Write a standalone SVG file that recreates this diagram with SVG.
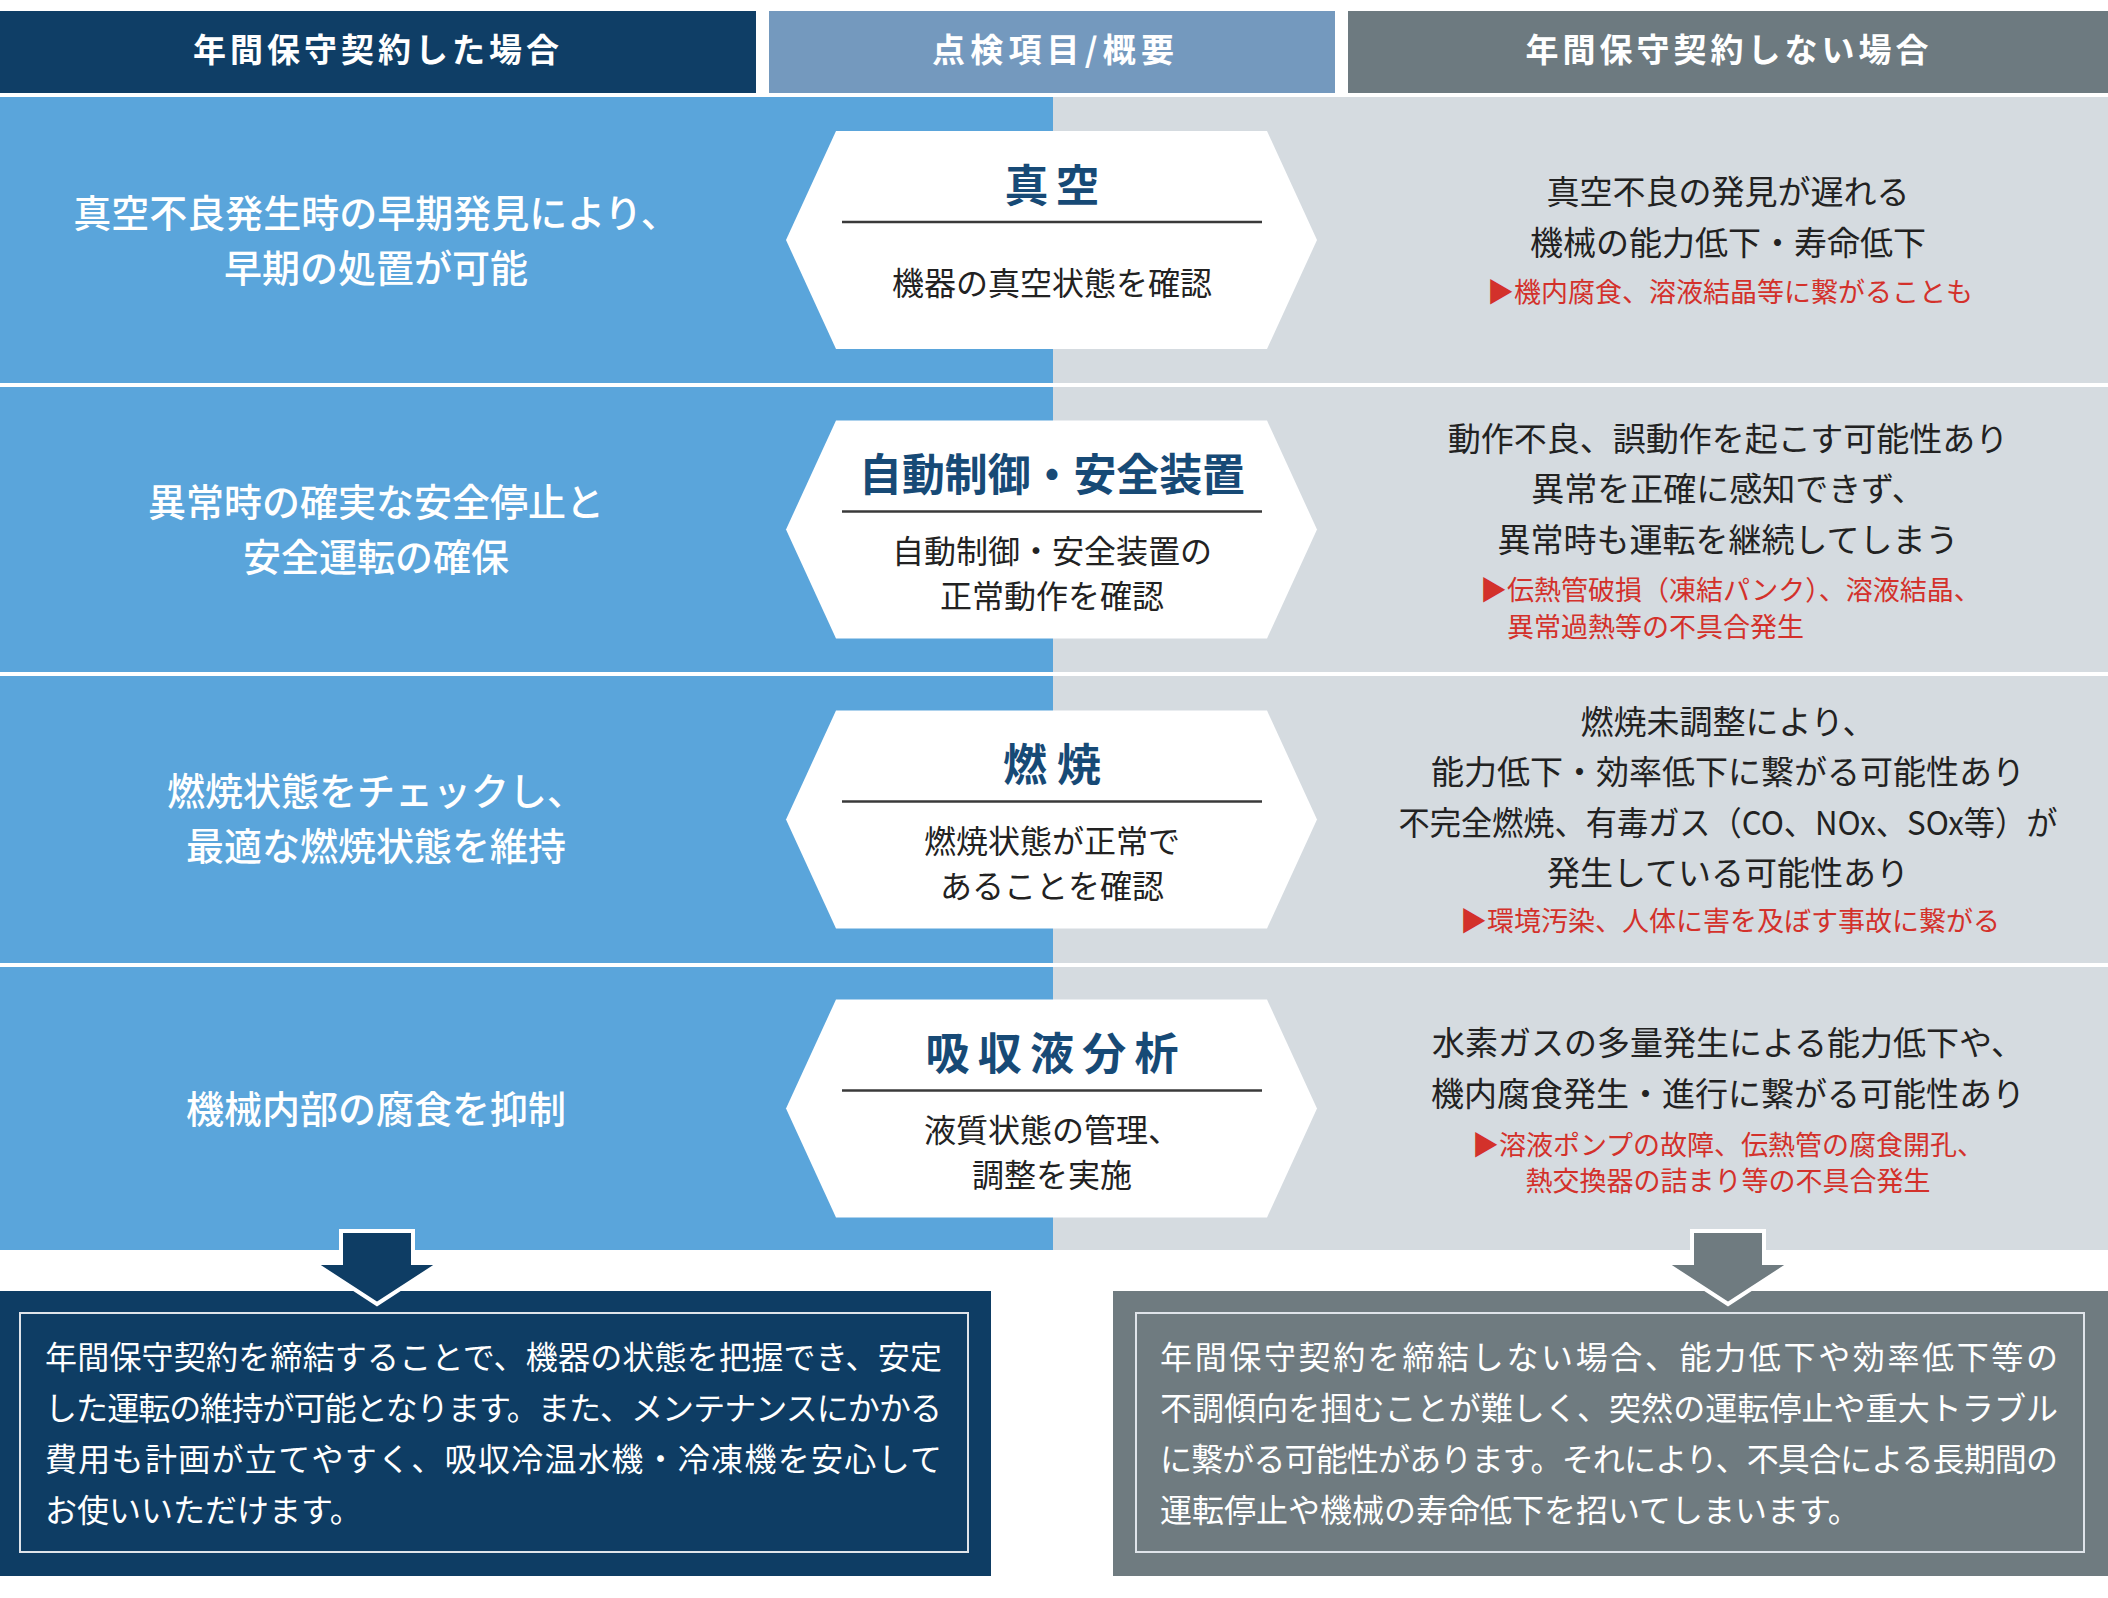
<svg xmlns="http://www.w3.org/2000/svg" width="2108" height="1598" viewBox="0 0 2108 1598">
<style>
text{font-family:"Noto Sans CJK JP","Noto Sans",sans-serif;}
.hdr{font-size:33px;font-weight:700;fill:#ffffff;text-anchor:middle;}
.lt{font-size:38px;fill:#ffffff;text-anchor:middle;font-weight:500;}
.rt{font-size:33px;fill:#222222;text-anchor:middle;}
.red{font-size:27px;fill:#d3312b;text-anchor:middle;}
.ttl{font-size:44px;font-weight:700;fill:#174a76;text-anchor:middle;}
.sub{font-size:32px;fill:#222222;text-anchor:middle;}
.hex{fill:#ffffff;}
.div{stroke:#3a3a3a;stroke-width:2.5;}
.box{font-size:32px;fill:#ffffff;}
.inner{fill:none;stroke:#dfe4ea;stroke-width:2;}
.blue{fill:#5aa5db;}
.gray{fill:#d5dbe0;}
</style>
<rect x="0" y="0" width="2108" height="1598" fill="#ffffff"/>

<g id="header-left">
<rect x="0" y="11" width="756" height="82" fill="#0f3e66"/>
<text class="hdr" x="376" y="62" textLength="366" lengthAdjust="spacing">年間保守契約した場合</text>
</g>
<g id="header-mid">
<rect x="769" y="11" width="566" height="82" fill="#7499be"/>
<text class="hdr" x="1053" y="62" textLength="242" lengthAdjust="spacing">点検項目/概要</text>
</g>
<g id="header-right">
<rect x="1348" y="11" width="760" height="82" fill="#6d7a80"/>
<text class="hdr" x="1727" y="62" textLength="403" lengthAdjust="spacing">年間保守契約しない場合</text>
</g>

<g id="row1">
<rect class="blue" x="0" y="97" width="1053" height="286"/>
<rect class="gray" x="1053" y="97" width="1055" height="286"/>
<text class="lt" x="376" y="227">真空不良発生時の早期発見により、</text>
<text class="lt" x="376" y="282">早期の処置が可能</text>
<polygon class="hex" points="786,240 836,131 1267,131 1317,240 1267,349 836,349"/>
<text class="ttl" x="1052" y="202" textLength="95" lengthAdjust="spacing">真空</text>
<line class="div" x1="842" y1="222" x2="1262" y2="222"/>
<text class="sub" x="1052" y="295">機器の真空状態を確認</text>
<text class="rt" x="1728" y="204">真空不良の発見が遅れる</text>
<text class="rt" x="1728" y="255">機械の能力低下・寿命低下</text>
<text class="red" x="1730" y="302">▶機内腐食、溶液結晶等に繋がることも</text>
</g>

<g id="row2">
<rect class="blue" x="0" y="387" width="1053" height="285"/>
<rect class="gray" x="1053" y="387" width="1055" height="285"/>
<text class="lt" x="376" y="516">異常時の確実な安全停止と</text>
<text class="lt" x="376" y="571">安全運転の確保</text>
<polygon class="hex" points="786,529.5 836,420.5 1267,420.5 1317,529.5 1267,638.5 836,638.5"/>
<text class="ttl" x="1052" y="491" textLength="386" lengthAdjust="spacingAndGlyphs">自動制御・安全装置</text>
<line class="div" x1="842" y1="511.5" x2="1262" y2="511.5"/>
<text class="sub" x="1052" y="563">自動制御・安全装置の</text>
<text class="sub" x="1052" y="608">正常動作を確認</text>
<text class="rt" x="1728" y="451">動作不良、誤動作を起こす可能性あり</text>
<text class="rt" x="1728" y="501">異常を正確に感知できず、</text>
<text class="rt" x="1728" y="552">異常時も運転を継続してしまう</text>
<text class="red" x="1480" y="600" style="text-anchor:start">▶伝熱管破損（凍結パンク）、溶液結晶、</text>
<text class="red" x="1507" y="637" style="text-anchor:start">異常過熱等の不具合発生</text>
</g>

<g id="row3">
<rect class="blue" x="0" y="676" width="1053" height="287"/>
<rect class="gray" x="1053" y="676" width="1055" height="287"/>
<text class="lt" x="376" y="805">燃焼状態をチェックし、</text>
<text class="lt" x="376" y="860">最適な燃焼状態を維持</text>
<polygon class="hex" points="786,819.5 836,710.5 1267,710.5 1317,819.5 1267,928.5 836,928.5"/>
<text class="ttl" x="1052" y="781" textLength="98" lengthAdjust="spacing">燃焼</text>
<line class="div" x1="842" y1="801.5" x2="1262" y2="801.5"/>
<text class="sub" x="1052" y="853">燃焼状態が正常で</text>
<text class="sub" x="1052" y="898">あることを確認</text>
<text class="rt" x="1728" y="734">燃焼未調整により、</text>
<text class="rt" x="1728" y="784">能力低下・効率低下に繋がる可能性あり</text>
<text class="rt" x="1728" y="835" textLength="659" lengthAdjust="spacingAndGlyphs">不完全燃焼、有毒ガス（CO、NOx、SOx等）が</text>
<text class="rt" x="1728" y="885">発生している可能性あり</text>
<text class="red" x="1730" y="931">▶環境汚染、人体に害を及ぼす事故に繋がる</text>
</g>

<g id="row4">
<rect class="blue" x="0" y="967" width="1053" height="283"/>
<rect class="gray" x="1053" y="967" width="1055" height="283"/>
<text class="lt" x="376" y="1123">機械内部の腐食を抑制</text>
<polygon class="hex" points="786,1108.5 836,999.5 1267,999.5 1317,1108.5 1267,1217.5 836,1217.5"/>
<text class="ttl" x="1052" y="1070" textLength="253" lengthAdjust="spacing">吸収液分析</text>
<line class="div" x1="842" y1="1090.5" x2="1262" y2="1090.5"/>
<text class="sub" x="1052" y="1142">液質状態の管理、</text>
<text class="sub" x="1052" y="1187">調整を実施</text>
<text class="rt" x="1728" y="1055">水素ガスの多量発生による能力低下や、</text>
<text class="rt" x="1728" y="1106">機内腐食発生・進行に繋がる可能性あり</text>
<text class="red" x="1728" y="1155">▶溶液ポンプの故障、伝熱管の腐食開孔、</text>
<text class="red" x="1728" y="1191">熱交換器の詰まり等の不具合発生</text>
</g>

<g id="summary-left">
<rect x="0" y="1291" width="991" height="285" fill="#0e3d64"/>
<rect class="inner" x="20" y="1313" width="948" height="239"/>
<text class="box" x="45" y="1369" textLength="897" lengthAdjust="spacing">年間保守契約を締結することで、機器の状態を把握でき、安定</text>
<text class="box" x="45" y="1420" textLength="897" lengthAdjust="spacing">した運転の維持が可能となります。また、メンテナンスにかかる</text>
<text class="box" x="45" y="1471" textLength="897" lengthAdjust="spacing">費用も計画が立てやすく、吸収冷温水機・冷凍機を安心して</text>
<text class="box" x="45" y="1522">お使いいただけます。</text>
</g>

<g id="summary-right">
<rect x="1113" y="1291" width="995" height="285" fill="#6f7b80"/>
<rect class="inner" x="1136" y="1313" width="948" height="239"/>
<text class="box" x="1160" y="1369" textLength="898" lengthAdjust="spacing">年間保守契約を締結しない場合、能力低下や効率低下等の</text>
<text class="box" x="1160" y="1420" textLength="898" lengthAdjust="spacing">不調傾向を掴むことが難しく、突然の運転停止や重大トラブル</text>
<text class="box" x="1160" y="1471" textLength="898" lengthAdjust="spacing">に繋がる可能性があります。それにより、不具合による長期間の</text>
<text class="box" x="1160" y="1522">運転停止や機械の寿命低下を招いてしまいます。</text>
</g>

<g id="connectors">
<polygon points="341,1231 413,1231 413,1263 440,1263 377,1304 314,1263 341,1263" fill="#0e3d64" stroke="#ffffff" stroke-width="4" stroke-linejoin="miter"/>
<polygon points="1692,1231 1764,1231 1764,1263 1791,1263 1728,1304 1665,1263 1692,1263" fill="#6f7b80" stroke="#ffffff" stroke-width="4" stroke-linejoin="miter"/>
</g>
</svg>
